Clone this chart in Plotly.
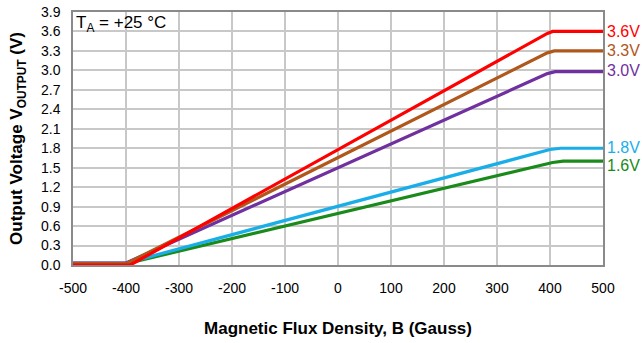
import plotly.graph_objects as go

series_names = ["1.6V", "1.8V", "3.0V", "3.3V", "3.6V"]
series_colors = ["#1a8a1a", "#19aee8", "#7030a0", "#b0571c", "#ff0000"]
b_16 = [-500, -400, 405, 425, 500]
v_16 = [0.02, 0.02, 1.58, 1.6, 1.6]
b_18 = [-500, -400, 400, 420, 500]
v_18 = [0.03, 0.03, 1.78, 1.8, 1.8]
b_30 = [-500, -400, 395, 410, 500]
v_30 = [0.03, 0.03, 2.95, 2.98, 2.98]
b_33 = [-500, -400, 395, 408, 500]
v_33 = [0.02, 0.02, 3.27, 3.3, 3.3]
b_36 = [-500, -392, 395, 405, 500]
v_36 = [0.0, 0.0, 3.57, 3.6, 3.6]
xs = [b_16, b_18, b_30, b_33, b_36]
ys = [v_16, v_18, v_30, v_33, v_36]
label_y = [1.6, 1.8, 3.0, 3.3, 3.6]
label_shift = [-4, 1, 0, 0, 0]
x_ticks = [-500, -400, -300, -200, -100, 0, 100, 200, 300, 400, 500]
x_tick_text = ["-500", "-400", "-300", "-200", "-100", "0", "100", "200", "300", "400", "500"]
y_ticks = [0.0, 0.3, 0.6, 0.9, 1.2, 1.5, 1.8, 2.1, 2.4, 2.7, 3.0, 3.3, 3.6, 3.9]
y_tick_text = ["0.0", "0.3", "0.6", "0.9", "1.2", "1.5", "1.8", "2.1", "2.4", "2.7", "3.0", "3.3", "3.6", "3.9"]

FONT = "Liberation Sans, Arial, Helvetica"

fig = go.Figure()
for n, c, x, y in zip(series_names, series_colors, xs, ys):
    fig.add_trace(go.Scatter(x=x, y=y, mode="lines", name=n,
                             line=dict(color=c, width=3.2), showlegend=False))

for n, c, ly, sh in zip(series_names, series_colors, label_y, label_shift):
    fig.add_annotation(x=1.0, xref="paper", y=ly, yref="y", text=n,
                       showarrow=False, xanchor="left", xshift=2, yshift=sh,
                       font=dict(color=c, size=16, family=FONT))

fig.add_annotation(x=0.0, xref="paper", y=1.0, yref="paper",
                   text="T<sub>A</sub> = +25 °C", showarrow=False,
                   xanchor="left", yanchor="top", xshift=1, yshift=1,
                   font=dict(color="black", size=17, family=FONT))

fig.update_layout(
    width=642, height=343,
    margin=dict(l=73, r=39, t=12, b=78, autoexpand=False),
    paper_bgcolor="white", plot_bgcolor="white",
    font=dict(family=FONT, size=14, color="black"),
    xaxis=dict(range=[-500, 500], tickvals=x_ticks, ticktext=x_tick_text,
               showgrid=True, automargin=False,
               gridcolor="#c8c8c8", gridwidth=1.5, zeroline=False,
               showline=True, linecolor="#8a8a8a", linewidth=1.5, mirror=True,
               ticks="", tickfont=dict(size=14), ticklabelstandoff=9,
               title=dict(text="<b>Magnetic Flux Density, B (Gauss)</b>",
                          font=dict(size=17), standoff=28)),
    yaxis=dict(range=[0, 3.9], tickvals=y_ticks, ticktext=y_tick_text,
               showgrid=True, automargin=False,
               gridcolor="#c8c8c8", gridwidth=1.5, zeroline=False,
               showline=True, linecolor="#8a8a8a", linewidth=1.5, mirror=True,
               ticks="", tickfont=dict(size=14), ticklabelstandoff=8,
               title=dict(text="<b>Output Voltage V<sub>OUTPUT</sub> (V)</b>",
                          font=dict(size=17), standoff=14)),
)
fig.write_html("out.html", config={"displayModeBar": False},
               post_script="document.body.style.margin='0';")
